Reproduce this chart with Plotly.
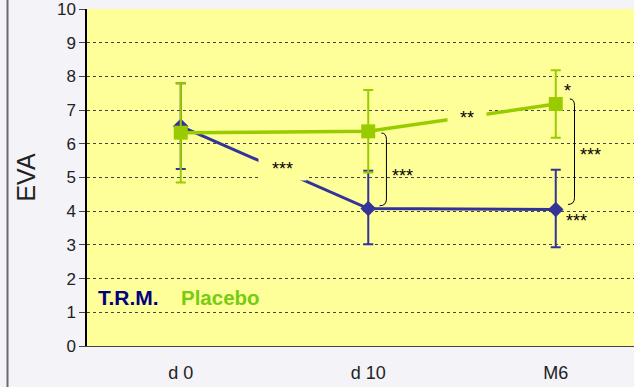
import plotly.graph_objects as go

categories = ["d 0", "d 10", "M6"]
trm_mean = [6.52, 4.08, 4.05]
trm_upper = [7.8, 5.2, 5.23]
trm_lower = [5.25, 3.02, 2.93]
pla_mean = [6.33, 6.37, 7.18]
pla_upper = [7.8, 7.6, 8.18]
pla_lower = [4.85, 5.15, 6.18]
y_ticks = list(range(0, 11))

BLUE = "#333399"
GREEN = "#99cc00"
YELLOW = "#ffff99"

xs = list(range(len(categories)))

fig = go.Figure()
fig.add_trace(go.Scatter(
    x=xs, y=trm_mean, mode="lines+markers",
    line=dict(color=BLUE, width=3),
    marker=dict(symbol="diamond", size=12, color=BLUE),
    error_y=dict(type="data", symmetric=False,
                 array=[u - m for u, m in zip(trm_upper, trm_mean)],
                 arrayminus=[m - l for m, l in zip(trm_mean, trm_lower)],
                 color=BLUE, thickness=2, width=5),
    showlegend=False))
fig.add_trace(go.Scatter(
    x=xs, y=pla_mean, mode="lines+markers",
    line=dict(color=GREEN, width=3.5),
    marker=dict(symbol="square", size=14, color=GREEN),
    error_y=dict(type="data", symmetric=False,
                 array=[u - m for u, m in zip(pla_upper, pla_mean)],
                 arrayminus=[m - l for m, l in zip(pla_mean, pla_lower)],
                 color=GREEN, thickness=2, width=5),
    showlegend=False))

# brackets
def bracket(xc, ytop, ybot, d0=0.07, d1=0.097, r=0.2):
    return (f"M {xc+d0},{ytop} Q {xc+d1},{ytop} {xc+d1},{ytop-r} "
            f"L {xc+d1},{ybot+r} Q {xc+d1},{ybot} {xc+d0-0.01},{ybot}")

shapes = [
    dict(type="path", xref="x", yref="y",
         path=bracket(1, pla_mean[1] - 0.05, trm_mean[1] + 0.08),
         line=dict(color="black", width=1)),
    dict(type="path", xref="x", yref="y",
         path=bracket(2, pla_mean[2] + 0.15, trm_mean[2] + 0.15, 0.075, 0.1),
         line=dict(color="black", width=1)),
    dict(type="line", xref="paper", yref="paper",
         x0=(7.5 - 87) / 547, x1=(7.5 - 87) / 547, y0=-0.2, y1=1.1,
         line=dict(color="#6b6b6b", width=2)),
]

star_font = dict(family="Arial", size=18, color="black")
annotations = [
    dict(x=0.54, y=5.24, text="***", showarrow=False, font=star_font,
         bgcolor=YELLOW, width=45, height=20),
    dict(x=1.527, y=6.78, text="**", showarrow=False, font=star_font,
         bgcolor=YELLOW, width=36, height=20),
    dict(x=1.18, y=5.05, text="***", showarrow=False, font=star_font),
    dict(x=2.183, y=5.68, text="***", showarrow=False, font=star_font),
    dict(x=2.06, y=7.58, text="*", showarrow=False, font=star_font),
    dict(x=2.11, y=3.72, text="***", showarrow=False, font=star_font),
    dict(x=-0.45, y=1.45, xanchor="left", text="<b>T.R.M.</b>", showarrow=False,
         font=dict(family="Arial", size=21, color="#000080")),
    dict(x=-0.01, y=1.45, xanchor="left", text="<b>Placebo</b>", showarrow=False,
         font=dict(family="Arial", size=20.5, color="#77cc11")),
]

fig.update_layout(
    width=634, height=387,
    margin=dict(l=87, r=0, t=9, b=41),
    paper_bgcolor="#f3f3f8",
    plot_bgcolor=YELLOW,
    shapes=shapes,
    annotations=annotations,
    xaxis=dict(range=[-0.5, -0.5 + 547 / 187.5], tickvals=xs, ticktext=categories,
               showgrid=False, zeroline=False, showline=True, linecolor="#444",
               linewidth=1, ticks="", ticklabelstandoff=10,
               tickfont=dict(family="Arial", size=18, color="#222")),
    yaxis=dict(range=[0, 10], tickvals=y_ticks, showgrid=True, gridcolor="#444",
               griddash="dot", gridwidth=1, zeroline=False, showline=True,
               linecolor="black", linewidth=1.5, ticks="outside", ticklen=6,
               ticklabeloverflow="allow",
               tickcolor="#444", tickfont=dict(family="Arial", size=17, color="#222"),
               title=dict(text="EVA", font=dict(family="Arial", size=25, color="#222"),
                          standoff=14)),
)

fig.write_html("out.html")
